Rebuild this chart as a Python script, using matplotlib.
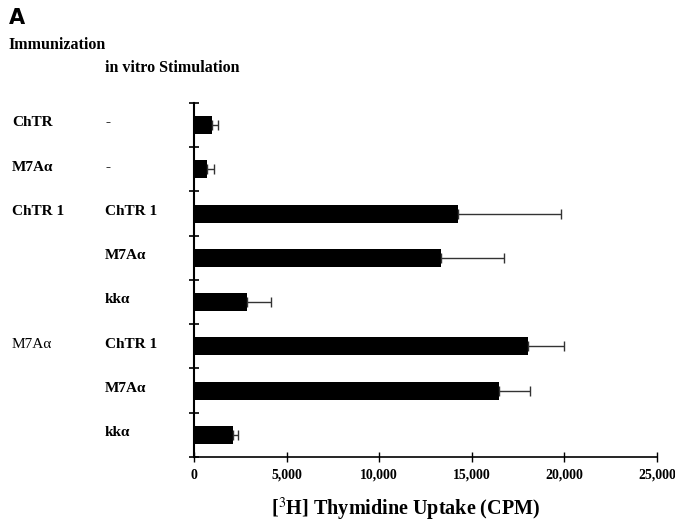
import numpy as np
import matplotlib.pyplot as plt
from matplotlib.transforms import blended_transform_factory

immunization = ['ChTR', 'M7A\u03b1', 'ChTR 1', '', '', 'M7A\u03b1', '', '']
stimulation = ['-', '-', 'ChTR 1', 'M7A\u03b1', 'kk\u03b1', 'ChTR 1', 'M7A\u03b1', 'kk\u03b1']
cpm = [970, 700, 14250, 13320, 2840, 18020, 16490, 2090]
cpm_err = [330, 380, 5580, 3420, 1320, 1980, 1650, 300]
immun_bold = [True, True, True, True, True, False, True, True]
xticks = [0, 5000, 10000, 15000, 20000, 25000]
xticklabels = ['0', '5,000', '10,000', '15,000', '20,000', '25,000']

plt.rcParams['font.family'] = ['Liberation Serif', 'DejaVu Serif']
plt.rcParams['mathtext.fontset'] = 'stix'

fig = plt.figure(figsize=(6.75, 5.23), dpi=100)
ax = fig.add_axes([0.2874, 0.1262, 0.6859, 0.6769])

n = len(cpm)
y = np.arange(n) + 0.5
errs = [np.zeros(n), cpm_err]
ax.barh(y, cpm, height=0.41, color='black')
ax.errorbar(cpm, y, xerr=errs, fmt='none', ecolor='#333333', elinewidth=1.0, capsize=3.5, capthick=1.0)

ax.set_ylim(n, 0)
ax.set_xlim(0, 25000)
ax.set_yticks(np.arange(n + 1))
ax.set_yticklabels([])
ax.set_xticks(xticks)
ax.set_xticklabels(xticklabels, fontsize=10, fontweight='bold')
ax.tick_params(axis='y', direction='inout', length=7, width=1.2)
ax.tick_params(axis='x', direction='inout', length=7, width=1.0, pad=5)
for s in ['top', 'right']:
    ax.spines[s].set_visible(False)
ax.spines['left'].set_linewidth(1.5)
ax.spines['bottom'].set_linewidth(1.2)
ax.set_xlabel(r'[$^{3}$H] Thymidine Uptake (CPM)', fontsize=14.5, fontweight='bold', labelpad=10)
ax.xaxis.label.set_x(0.458)

# row labels on the left
trans = blended_transform_factory(fig.transFigure, ax.transData)
for yi, lab, bold in zip(y, immunization, immun_bold):
    if lab:
        ax.text(12 / 675, yi - 0.05, lab, transform=trans, fontsize=11,
                fontweight='bold' if bold else 'normal', va='center')
for yi, lab in zip(y, stimulation):
    ax.text(105 / 675, yi - 0.05, lab, transform=trans, fontsize=11,
            fontweight='bold', va='center')

fig.text(9 / 675, 1 - 18 / 523, 'A', family='DejaVu Sans', fontsize=15, fontweight='bold', va='center')
fig.text(8 / 675, 1 - 45 / 523, 'Immunization', fontsize=11.5, fontweight='bold', va='center')
fig.text(105 / 675, 1 - 68 / 523, 'in vitro Stimulation', fontsize=11.5, fontweight='bold', va='center')

fig.savefig('out.png', dpi=100)
